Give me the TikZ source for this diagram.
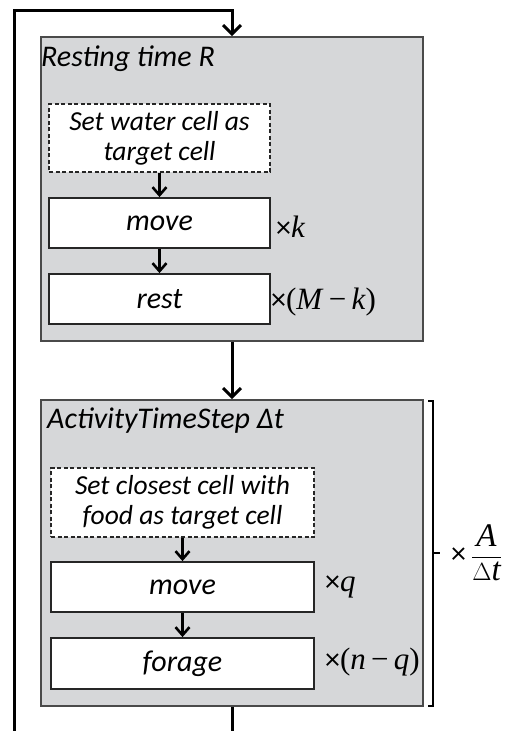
\documentclass[tikz,border=0pt]{standalone}
\usepackage{fontspec}
\setmainfont{Carlito}
\newfontfamily\tms{Liberation Serif}
\usetikzlibrary{arrows.meta}
\definecolor{panelgray}{HTML}{D6D7D9}
\definecolor{edgegray}{HTML}{4A4A4A}
\tikzset{
  panel/.style={draw=edgegray, line width=1.6pt, fill=panelgray, minimum width=382pt, inner sep=0pt},
  stepbox/.style={draw=black!85, line width=1.8pt, fill=white, align=center, inner sep=0pt,
    font=\fontsize{30}{31}\selectfont\itshape},
  setbox/.style={stepbox, dashed, dash pattern=on 4pt off 2.5pt, line width=1.4pt,
    font=\fontsize{27.5}{30}\selectfont\itshape},
  title/.style={anchor=base west, inner sep=0pt, font=\fontsize{30}{31}\selectfont\itshape},
  mult/.style={anchor=west, inner sep=0pt, font=\fontsize{30}{31}\selectfont},
  flow/.style={line width=3pt, -{Straight Barb[length=9pt,width=18pt]}},
  iflow/.style={line width=2.6pt, -{Straight Barb[length=8pt,width=14pt]}},
  plain/.style={line width=3pt}
}
\newcommand{\mth}{\fontsize{31}{32}\selectfont\tms}
\begin{document}
\begin{tikzpicture}[x=1pt,y=-1pt]
\useasboundingbox (0,0) rectangle (506,731);
% panels
\node[panel, minimum height=304pt] (R) at (232,189) {};
\node[panel, minimum height=306pt] (A) at (232,553) {};
\node[title] (Rt) at (41,66) {Resting time R};
\node[title] (At) at (47,428) {ActivityTimeStep \char"0394 t};
% resting steps
\node[setbox, minimum width=221pt, minimum height=68pt] (d1) at (159.5,138) {Set water cell as\\target cell};
\node[stepbox, minimum width=221pt, minimum height=50pt] (m1) at (159.5,223) {move};
\node[stepbox, minimum width=221pt, minimum height=50pt] (r1) at (159.5,299) {rest};
\node[mult] (k1) at (276,227) {×{\mth\itshape k}};
\node[mult] (k2) at (271,302) {×{\mth(\textit{M}\,−\,\textit{k})}};
\draw[iflow] (d1) -- (m1);
\draw[iflow] (m1) -- (r1);
% activity steps
\node[setbox, minimum width=263pt, minimum height=69pt] (d2) at (182.5,502.5) {Set closest cell with\\food as target cell};
\node[stepbox, minimum width=263pt, minimum height=50pt] (m2) at (182.5,587) {move};
\node[stepbox, minimum width=263pt, minimum height=51pt] (f2) at (182.5,663.5) {forage};
\node[mult] (q1) at (325,587) {×{\mth\itshape q}};
\node[mult] (q2) at (325,662) {×{\mth(\textit{n}\,−\,\textit{q})}};
\draw[iflow] (d2) -- (m2);
\draw[iflow] (m2) -- (f2);
% bracket and factor
\coordinate (bt) at (433,401);
\coordinate (bb) at (433,706);
\coordinate (bm) at (433,553);
\draw[line width=2.6pt] ([xshift=-5pt]bt) -- (bt) -- (bb) -- ([xshift=-5pt]bb);
\draw[line width=2.6pt] (bm) -- ++(7,0);
\node[mult] (fac) at (451,553) {×\,{\fontsize{33}{34}\selectfont\tms$\displaystyle\frac{\textit{A}}{\Delta \textit{t}}$}};
% loop connectors
\coordinate (lb) at (14,731);
\coordinate (lt) at (14,10);
\coordinate (eb) at (232,731);
\draw[flow] (lb) -- (lt) -| (R.north);
\draw[flow] (R.south) -- (A.north);
\draw[plain] (A.south) -- (eb);
\end{tikzpicture}
\end{document}
